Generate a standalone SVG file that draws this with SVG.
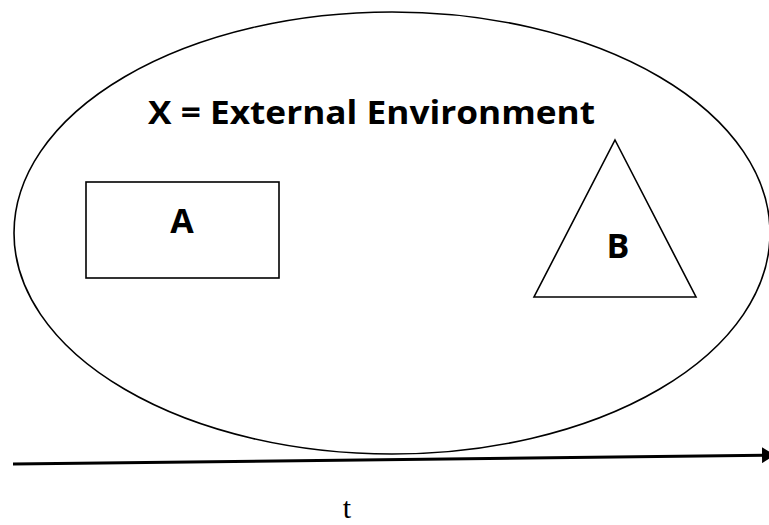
<svg xmlns="http://www.w3.org/2000/svg" width="769" height="525" viewBox="0 0 769 525">
<style>
.shape{fill:none;stroke:#000;stroke-width:1.6}
.lbl{font-family:"Open Sans","Liberation Sans",sans-serif;font-weight:bold;fill:#000}
</style>
<defs>
<marker id="arr" markerWidth="14" markerHeight="16" refX="13" refY="8" orient="auto" markerUnits="userSpaceOnUse" viewBox="0 0 14 16">
<path d="M0,0 L13,8 L0,16 Z" fill="#000"/>
</marker>
</defs>
<rect width="769" height="525" fill="#fff"/>
<g id="X">
<ellipse class="shape" cx="392" cy="233" rx="378" ry="221"/>
<text class="lbl" x="148" y="124" font-size="33" textLength="447" lengthAdjust="spacingAndGlyphs">X = External Environment</text>
</g>
<g id="A">
<rect class="shape" x="86" y="182" width="193" height="96"/>
<text class="lbl" x="182" y="233" font-size="34" text-anchor="middle">A</text>
</g>
<g id="B">
<polygon class="shape" points="615,140 696,297 534,297"/>
<text class="lbl" x="618" y="258" font-size="34" text-anchor="middle">B</text>
</g>
<g id="connectors">
<line x1="13" y1="464" x2="775" y2="455" stroke="#000" stroke-width="3" marker-end="url(#arr)"/>
</g>
<text x="347" y="518" font-family="Liberation Serif,serif" font-size="30" fill="#000" text-anchor="middle">t</text>
</svg>
